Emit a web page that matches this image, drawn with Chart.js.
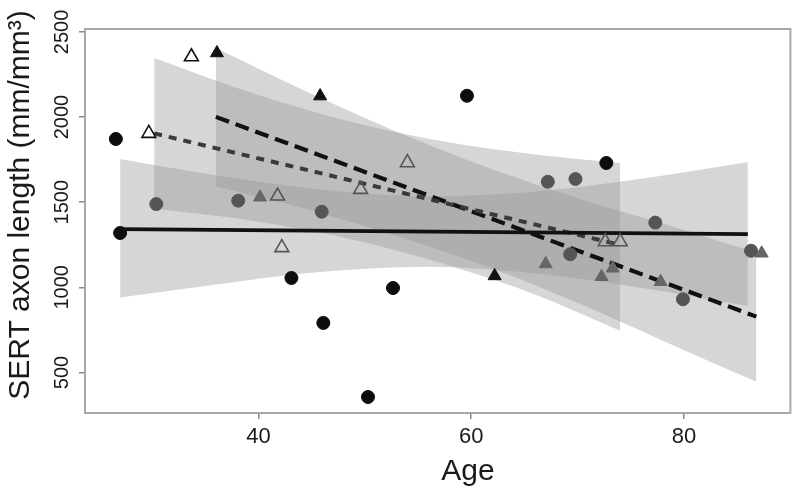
<!DOCTYPE html>
<html>
<head>
<meta charset="utf-8">
<script src="https://cdn.jsdelivr.net/npm/chart.js@4"></script>
<style>
html,body{margin:0;padding:0;background:#fff;}
#wrap{width:800px;height:487px;}
</style>
</head>
<body>
<div id="wrap"><canvas id="c" width="800" height="487"></canvas></div>
<script>
// ---- data ----
const ageTicks = [40, 60, 80];
const lengthTicks = [500, 1000, 1500, 2000, 2500];

// circles (black and dark grey)
const circleBlackAge = [26.6, 27.0, 43.1, 46.1, 50.3, 52.65, 59.6, 72.7];
const circleBlackLen = [1871, 1319, 1055, 791, 356, 996, 2125, 1730];
const circleGreyAge = [30.4, 38.1, 45.95, 67.2, 69.8, 77.3, 69.3, 79.9, 86.3];
const circleGreyLen = [1489, 1509, 1444, 1620, 1636, 1380, 1194, 930, 1215];
// filled triangles
const triFillBlackAge = [36.1, 45.8, 62.2];
const triFillBlackLen = [2376, 2123, 1067];
const triFillGreyAge = [40.15, 67.0, 72.25, 73.3, 77.8, 87.3];
const triFillGreyLen = [1529, 1137, 1062, 1112, 1033, 1200];
// open triangles
const triOpenBlackAge = [29.7, 33.7];
const triOpenBlackLen = [1904, 2354];
const triOpenGreyAge = [41.8, 42.2, 49.6, 54.0, 72.6, 74.0];
const triOpenGreyLen = [1536, 1233, 1575, 1732, 1268, 1268];

// fitted lines
const fitSolidAge = [27, 86];
const fitSolidLen = [1342, 1313];
const fitLongAge = [36, 86.8];
const fitLongLen = [2001, 828];
const fitShortAge = [30.2, 74];
const fitShortLen = [1904, 1249];

// confidence bands
const bandSolidAge = [27, 35, 45, 56, 65, 75, 86];
const bandSolidUpper = [1753, 1668, 1580, 1535, 1557, 1629, 1736];
const bandSolidLower = [940, 1008, 1086, 1121, 1088, 1007, 891];
const bandLongAge = [36, 45, 55, 62, 70, 78, 86.8];
const bandLongUpper = [2405, 2136, 1862, 1693, 1523, 1375, 1205];
const bandLongLower = [1592, 1450, 1262, 1109, 909, 687, 445];
const bandShortAge = [30.2, 38, 46, 52, 58, 66, 74];
const bandShortUpper = [2346, 2170, 2017, 1924, 1850, 1780, 1730];
const bandShortLower = [1462, 1404, 1319, 1232, 1126, 958, 745];

const xTitle = 'Age';
const yTitle = 'SERT axon length (mm/mm\u00B3)';

// ---- build ----
const pts = (xs, ys) => xs.map((x, i) => ({x: x, y: ys[i]}));
const BAND = 'rgba(153,153,153,0.4)';
const FONT = '"Liberation Sans", Arial, sans-serif';

const datasets = [];
function band(xs, up, lo) {
  const loIdx = datasets.length;
  datasets.push({data: pts(xs, lo), showLine: true, borderWidth: 0, pointRadius: 0,
    fill: false, order: 3, cubicInterpolationMode: 'monotone'});
  datasets.push({data: pts(xs, up), showLine: true, borderWidth: 0, pointRadius: 0,
    fill: {target: loIdx}, backgroundColor: BAND, order: 3, cubicInterpolationMode: 'monotone'});
}
band(bandSolidAge, bandSolidUpper, bandSolidLower);
band(bandLongAge, bandLongUpper, bandLongLower);
band(bandShortAge, bandShortUpper, bandShortLower);

function fit(xs, ys, dash, color, w) {
  datasets.push({data: pts(xs, ys), showLine: true, borderColor: color, borderWidth: w,
    borderDash: dash, pointRadius: 0, fill: false, order: 2, borderCapStyle: 'butt'});
}
fit(fitSolidAge, fitSolidLen, [], '#111', 3.8);
fit(fitShortAge, fitShortLen, [8, 7], '#3a3a3a', 4);
fit(fitLongAge, fitLongLen, [14, 7], '#111', 4.2);

function scat(xs, ys, style, fillC, strokeC, r, bw) {
  datasets.push({data: pts(xs, ys), showLine: false, pointStyle: style, pointRadius: r,
    backgroundColor: fillC, borderColor: strokeC, borderWidth: bw, order: 1});
}
scat(circleGreyAge, circleGreyLen, 'circle', '#555', '#555', 6.5, 1);
scat(circleBlackAge, circleBlackLen, 'circle', '#0d0d0d', '#0d0d0d', 6.5, 1);
scat(triFillGreyAge, triFillGreyLen, 'triangle', '#666', '#666', 7.5, 1);
scat(triFillBlackAge, triFillBlackLen, 'triangle', '#111', '#111', 7.5, 1);
scat(triOpenGreyAge, triOpenGreyLen, 'triangle', 'rgba(0,0,0,0)', '#555', 8, 1.6);
scat(triOpenBlackAge, triOpenBlackLen, 'triangle', 'rgba(0,0,0,0)', '#111', 8, 1.6);

const decor = {
  id: 'decor',
  afterDraw(chart) {
    const {ctx, chartArea: a, scales} = chart;
    ctx.save();
    ctx.strokeStyle = '#a8a8a8';
    ctx.lineWidth = 2;
    ctx.strokeRect(a.left, a.top, a.right - a.left, a.bottom - a.top);
    // rotated y tick labels
    ctx.fillStyle = '#1a1a1a';
    ctx.font = '20px ' + FONT;
    ctx.textAlign = 'center';
    ctx.textBaseline = 'middle';
    lengthTicks.forEach(v => {
      const y = scales.y.getPixelForValue(v);
      ctx.save();
      ctx.translate(62, y);
      ctx.rotate(-Math.PI / 2);
      ctx.fillText(String(v), 0, 0);
      ctx.restore();
    });
    // y title
    ctx.font = '30px ' + FONT;
    ctx.save();
    ctx.translate(21, 205);
    ctx.rotate(-Math.PI / 2);
    ctx.fillText(yTitle, 0, 0);
    ctx.restore();
    // x title
    ctx.font = '30px ' + FONT;
    ctx.textBaseline = 'alphabetic';
    ctx.fillText(xTitle, 468, 480);
    ctx.restore();
  }
};

new Chart(document.getElementById('c'), {
  type: 'scatter',
  data: {datasets: datasets},
  options: {
    responsive: false,
    animation: false,
    events: [],
    layout: {padding: {top: 29, right: 3, left: 0, bottom: 0}},
    plugins: {legend: {display: false}, tooltip: {enabled: false}},
    scales: {
      x: {
        type: 'linear', min: 23.7, max: 90,
        afterBuildTicks: s => { s.ticks = ageTicks.map(v => ({value: v})); },
        afterFit: s => { s.height = 74; },
        grid: {display: true, drawOnChartArea: false, drawTicks: true, tickLength: 6, color: '#888', lineWidth: 1.5},
        border: {display: false},
        ticks: {color: '#1a1a1a', font: {family: FONT, size: 22}, padding: 5, maxRotation: 0},
        title: {display: false}
      },
      y: {
        type: 'linear', min: 262, max: 2517,
        afterBuildTicks: s => { s.ticks = lengthTicks.map(v => ({value: v})); },
        afterFit: s => { s.width = 85; },
        grid: {display: true, drawOnChartArea: false, drawTicks: true, tickLength: 6, color: '#888', lineWidth: 1.5},
        border: {display: false},
        ticks: {display: false},
        title: {display: false}
      }
    }
  },
  plugins: [decor]
});
</script>
</body>
</html>
